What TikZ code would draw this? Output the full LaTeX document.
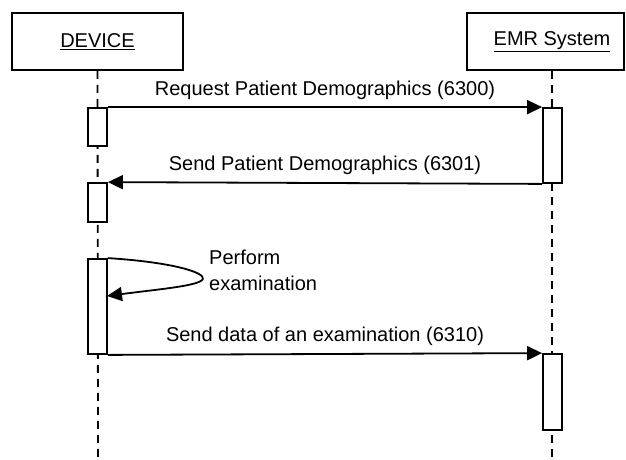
\documentclass[tikz,border=0pt]{standalone}
\usepackage{fontspec}
\setmainfont{Liberation Sans}
\usetikzlibrary{arrows.meta,positioning}
\begin{document}
\begin{tikzpicture}[x=1pt,y=-1pt,
  actor/.style={draw,line width=1.8pt,inner sep=0pt,font=\fontsize{20}{26}\selectfont},
  life/.style={line width=1.8pt,dash pattern=on 8pt off 6pt},
  act/.style={draw,fill=white,line width=1.8pt,inner sep=0pt,minimum width=19pt},
  msg/.style={line width=1.8pt,-{Triangle[length=15pt,width=14pt]}},
  lbl/.style={font=\fontsize{20}{26}\selectfont,inner sep=0pt}]
\useasboundingbox (0,0) rectangle (626,459);
% actors
\node[actor,minimum width=171pt,minimum height=57pt] (dev) at (97.5,41.5) {\underline{DEVICE}};
\node[actor,minimum width=157pt,minimum height=57pt] (emrbox) at (545.5,41.5) {};
\node[lbl] (emr) at (552,41.5) {\underline{EMR System}};
% lifelines
\coordinate (devend) at (98,459);
\coordinate (emrend) at (552,459);
\draw[life] (dev.south) -- (devend);
\draw[life] (emrbox.south -| emr) -- (emrend);
% activations
\node[act,minimum height=38pt] (a1) at (97.5,127) {};
\node[act,minimum height=75pt] (e1) at (552.5,145.5) {};
\node[act,minimum height=39pt] (a2) at (97.5,202.5) {};
\node[act,minimum height=95pt] (a3) at (97.5,306.5) {};
\node[act,minimum height=76pt] (e2) at (552.5,392) {};
% messages
\draw[msg] (a1.north east) -- (e1.north west)
  node[lbl,midway,above=7pt] {Request Patient Demographics (6300)};
\draw[msg] (e1.south west) -- (a2.north east)
  node[lbl,midway,above=7pt] {Send Patient Demographics (6301)};
\coordinate (selfret) at (107,296);
\coordinate (selftip) at (203,279);
\draw[line width=1.8pt] (a3.north east) .. controls (170,262) and (205,272) .. (selftip);
\draw[msg] (selftip) .. controls (199,286) and (160,289) .. (selfret);
\node[lbl,align=left,anchor=north west] (perf) at (209,250) {Perform\\examination};
\draw[msg] (a3.south east) -- (e2.north west)
  node[lbl,midway,above=7pt] {Send data of an examination (6310)};
\end{tikzpicture}
\end{document}
